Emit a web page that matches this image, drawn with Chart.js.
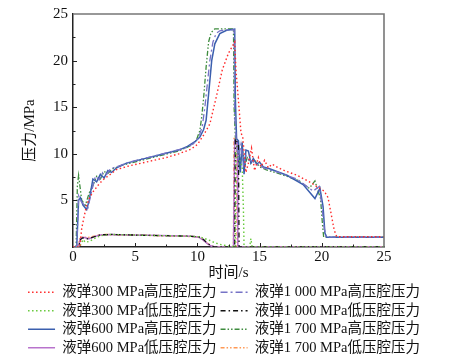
<!DOCTYPE html>
<html>
<head>
<meta charset="utf-8">
<script src="https://cdn.jsdelivr.net/npm/chart.js@4.4.1/dist/chart.umd.min.js"></script>
<style>
  html, body { margin: 0; padding: 0; background: #fff; }
  #wrap { width: 461px; height: 362px; }
</style>
</head>
<body>
<div id="wrap"><canvas id="chart-pressure" width="461" height="362"></canvas></div>
<script>
/* ── Data: time (s) / pressure (MPa) per curve ─────────────────── */
const t300High = [0, 0.55, 0.7, 0.9, 1.1, 1.3, 1.6, 2.0, 2.4, 2.8, 3.5, 4.5, 5.5, 6.5, 7.5, 8.5, 9.5, 10.0, 10.5, 11.0, 11.5, 12.0, 12.5, 13.0, 13.1, 13.3, 13.5, 13.65, 13.9, 14.1, 14.35, 14.6, 14.9, 15.1, 15.4, 15.7, 16.0, 16.5, 17, 18, 19, 19.7, 20.2, 20.5, 20.8, 21.0, 21.2, 25];
const p300High = [0, 0, 2.0, 3.3, 4.5, 5.2, 5.9, 6.6, 7.2, 7.6, 8.3, 8.7, 9.0, 9.3, 9.6, 10.0, 10.5, 11.0, 12.0, 13.2, 16.0, 19.0, 20.8, 22.0, 19.0, 15.7, 12.3, 11.7, 8.0, 9.0, 10.6, 8.2, 9.6, 8.6, 9.3, 8.5, 8.9, 8.5, 8.2, 7.7, 7.0, 6.4, 6.0, 5.3, 3.2, 1.8, 1.1, 1.1];

const t600High = [0, 0.3, 0.45, 0.6, 0.8, 1.1, 1.3, 1.6, 1.9, 2.2, 2.5, 2.8, 3.1, 3.5, 4.3, 5.5, 7.0, 8.5, 9.2, 9.8, 10.2, 10.5, 10.7, 10.9, 11.15, 11.4, 11.8, 12.35, 13.0, 13.05, 13.15, 13.3, 13.45, 13.6, 13.75, 13.9, 14.1, 14.3, 14.5, 14.75, 15.0, 15.3, 15.8, 17.2, 18.5, 19.45, 19.85, 20.1, 20.25, 20.4, 25];
const p600High = [0, 0, 5.0, 5.3, 4.5, 4.0, 5.0, 7.3, 7.0, 7.8, 7.4, 8.2, 8.0, 8.5, 9.0, 9.4, 9.9, 10.4, 10.8, 11.3, 11.8, 12.6, 13.6, 16.4, 20.0, 21.8, 22.9, 23.26, 23.37, 16.0, 11.6, 11.4, 8.0, 11.2, 7.8, 10.4, 10.3, 9.0, 9.5, 8.9, 9.1, 8.6, 8.4, 7.7, 6.7, 5.2, 6.3, 4.35, 1.5, 1.05, 1.05];

const t1000High = [0, 0.3, 0.45, 0.6, 0.9, 1.2, 1.5, 1.8, 2.1, 2.4, 2.7, 3.0, 3.5, 4.5, 6, 7.5, 9, 9.7, 10.1, 10.4, 10.6, 10.8, 11.0, 11.25, 11.5, 11.8, 12.3, 12.95, 13.0, 13.1, 13.3, 13.5, 13.7, 13.9, 14.1, 14.4, 14.7, 15.0, 15.5, 16.5, 18, 19.3, 19.8, 20.0, 20.2, 20.35, 25];
const p1000High = [0, 0, 5.5, 5.0, 4.5, 4.2, 6.0, 7.6, 7.2, 8.0, 7.8, 8.4, 8.6, 9.1, 9.6, 10.1, 10.6, 11.1, 11.7, 13.0, 15.0, 17.5, 20.0, 22.0, 22.9, 23.2, 23.3, 23.3, 14.0, 11.8, 9.5, 11.0, 8.8, 9.8, 9.4, 9.2, 8.9, 8.7, 8.4, 8.0, 7.3, 6.0, 6.5, 4.5, 2.0, 1.05, 1.05];

const t1700High = [0, 0.25, 0.35, 0.45, 0.7, 1.0, 1.3, 1.6, 1.9, 2.2, 2.5, 2.8, 3.2, 4, 5.5, 7, 8.5, 9.5, 9.9, 10.2, 10.35, 10.5, 10.7, 10.9, 11.1, 11.4, 11.8, 12.9, 12.95, 13.05, 13.2, 13.4, 13.6, 13.8, 14.0, 14.3, 14.6, 15.0, 15.5, 16.5, 18, 19.0, 19.45, 19.7, 19.9, 20.05, 20.15, 25];
const p1700High = [0, 0, 6.5, 7.7, 5.0, 4.5, 5.8, 6.6, 7.6, 7.3, 8.1, 7.9, 8.4, 8.8, 9.3, 9.8, 10.3, 10.9, 11.4, 12.5, 14.0, 16.0, 19.3, 22.0, 23.0, 23.4, 23.4, 23.4, 15.0, 11.8, 10.5, 8.3, 10.8, 8.6, 9.6, 9.0, 9.3, 8.6, 8.3, 7.9, 7.2, 6.3, 7.1, 6.0, 5.2, 2.5, 1.05, 1.05];

const t300Low = [0, 0.5, 0.65, 0.8, 1.0, 1.3, 1.7, 2.2, 3.0, 4.5, 6, 8, 9.5, 10.2, 10.6, 11.0, 11.4, 11.9, 12.5, 12.9, 13.05, 13.1, 13.35, 13.6, 13.7, 13.75, 14.2, 14.3, 14.4, 25];
const p300Low = [0, 0, 0.3, 0.8, 0.5, 0.6, 0.9, 1.2, 1.35, 1.3, 1.25, 1.2, 1.15, 1.1, 0.9, 0.7, 0.45, 0.25, 0.1, 0.05, 0, 10.0, 9.5, 8.6, 4.0, 0, 0, 0.9, 0, 0];

const t600Low = [0, 0.45, 0.6, 0.8, 1.0, 1.3, 1.7, 2.2, 3.0, 4.5, 6, 8, 9.5, 10.1, 10.5, 10.8, 11.1, 11.4, 12.9, 13.0, 13.2, 13.25, 25];
const p600Low = [0, 0, 0.9, 1.05, 1.0, 0.9, 1.1, 1.3, 1.35, 1.3, 1.25, 1.2, 1.15, 1.05, 0.7, 0.35, 0.1, 0, 0, 11.5, 11.3, 0, 0];

const t1000Low = [0, 0.45, 0.6, 0.8, 1.0, 1.3, 1.7, 2.2, 3.0, 4.5, 6, 8, 9.5, 10.1, 10.5, 10.8, 11.1, 11.4, 13.0, 13.05, 13.3, 13.35, 25];
const p1000Low = [0, 0, 0.8, 1.0, 0.85, 0.9, 1.1, 1.3, 1.35, 1.3, 1.25, 1.2, 1.15, 1.1, 0.8, 0.4, 0.15, 0, 0, 11.6, 11.0, 0, 0];

const t1700Low = [0, 0.4, 0.55, 0.8, 1.1, 1.5, 2.0, 2.6, 3.5, 5, 7, 9, 10.0, 10.4, 10.7, 11.0, 11.3, 12.9, 12.95, 13.15, 13.2, 25];
const p1700Low = [0, 0, 0.9, 1.1, 1.0, 1.1, 1.25, 1.35, 1.3, 1.28, 1.22, 1.15, 1.1, 0.85, 0.5, 0.2, 0, 0, 11.8, 11.4, 0, 0];

const xTicks = [0, 5, 10, 15, 20, 25];
const yTicks = [5, 10, 15, 20, 25];

const FONT = "'Liberation Serif', 'Times New Roman', 'Noto Sans CJK SC', serif";

function pts(ts, ps) {
    return ts.map((t, i) => ({ x: t, y: ps[i] }));
}

function series(label, ts, ps, color, dash, width) {
    return {
        label,
        data: pts(ts, ps),
        borderColor: color,
        backgroundColor: color,
        borderDash: dash,
        borderWidth: width || 1.3,
        pointRadius: 0,
        tension: 0,
        fill: false,
    };
}

/* ── Inward ticks + top/right frame ───────────────────────────── */
const frameTicks = {
    id: "frameTicks",
    afterDraw(chart) {
        const { ctx, chartArea: a, scales } = chart;
        ctx.save();
        ctx.strokeStyle = "#777";
        ctx.lineWidth = 1.6;
        ctx.beginPath();
        ctx.moveTo(a.left, a.top); ctx.lineTo(a.right, a.top); ctx.lineTo(a.right, a.bottom);
        ctx.stroke();

        ctx.strokeStyle = "#222";
        ctx.lineWidth = 1;
        ctx.beginPath();
        for (let v = 2.5; v < 25; v += 2.5) {
            const len = v % 5 === 0 ? 4 : 2.5;
            const px = Math.round(scales.x.getPixelForValue(v)) + 0.5;
            ctx.moveTo(px, a.bottom); ctx.lineTo(px, a.bottom - len);
            const py = Math.round(scales.y.getPixelForValue(v)) + 0.5;
            ctx.moveTo(a.left, py); ctx.lineTo(a.left + len, py);
        }
        ctx.stroke();
        ctx.restore();
    }
};

/* ── Chart ────────────────────────────────────────────────────── */
new Chart(document.getElementById("chart-pressure"), {
    type: "line",
    data: {
        datasets: [
            series("液弹300 MPa高压腔压力", t300High, p300High, "#ff2a2a", [1.5, 2.5], 1.4),
            series("液弹1 000 MPa高压腔压力", t1000High, p1000High, "#7673c6", [7, 3, 2, 3]),
            series("液弹300 MPa低压腔压力", t300Low, p300Low, "#66c93a", [1.5, 2.5], 1.4),
            series("液弹1 000 MPa低压腔压力", t1000Low, p1000Low, "#111", [5, 3, 1.5, 3]),
            series("液弹600 MPa高压腔压力", t600High, p600High, "#3b5fae", [], 1.5),
            series("液弹1 700 MPa高压腔压力", t1700High, p1700High, "#3e8c3e", [5, 2, 1.5, 2, 1.5, 2]),
            series("液弹600 MPa低压腔压力", t600Low, p600Low, "#b873cc", [], 1.5),
            series("液弹1 700 MPa低压腔压力", t1700Low, p1700Low, "#ff9955", [4, 2, 1.5, 2, 1.5, 2], 1.5),
        ]
    },
    options: {
        responsive: false,
        animation: false,
        layout: { padding: { left: 0, right: 13, top: 13, bottom: -3 } },
        plugins: {
            tooltip: { enabled: false },
            legend: {
                position: "bottom",
                labels: {
                    usePointStyle: true,
                    pointStyle: "line",
                    pointStyleWidth: 27,
                    padding: 4,
                    color: "#111",
                    font: { family: FONT, size: 14.5 },
                    generateLabels: chart => {
                        const items = Chart.defaults.plugins.legend.labels.generateLabels(chart);
                        items.forEach(it => {
                            const ds = chart.data.datasets[it.datasetIndex];
                            it.lineDash = ds.borderDash;
                            it.lineWidth = ds.borderWidth;
                            it.strokeStyle = ds.borderColor;
                        });
                        return items;
                    }
                }
            }
        },
        scales: {
            x: {
                type: "linear",
                min: 0, max: 25,
                afterBuildTicks: s => { s.ticks = xTicks.map(v => ({ value: v })); },
                ticks: { color: "#111", padding: 3, maxRotation: 0, font: { family: FONT, size: 15, lineHeight: 1 } },
                grid: { display: false, drawTicks: false },
                border: { display: true, color: "#222", width: 1.5 },
                title: { display: true, text: "时间/s", color: "#111", padding: { top: -2, bottom: 0 }, font: { family: FONT, size: 15, lineHeight: 1 } },
            },
            y: {
                min: 0, max: 25,
                afterBuildTicks: s => { s.ticks = yTicks.map(v => ({ value: v })); },
                afterFit: s => { s.width = 73; },
                ticks: { color: "#111", padding: 5, font: { family: FONT, size: 15 } },
                grid: { display: false, drawTicks: false },
                border: { display: true, color: "#222", width: 1.5 },
                title: { display: true, text: "压力/MPa", color: "#111", padding: { top: 21, bottom: 0 }, font: { family: FONT, size: 15 } },
            },
            // empty right-hand strip so the plot ends where the reference frame does
            yRight: {
                position: "right",
                display: true,
                ticks: { display: false },
                grid: { display: false, drawTicks: false },
                border: { display: false },
                afterFit: s => { s.width = 64; },
            }
        }
    },
    plugins: [frameTicks]
});
</script>
</body>
</html>
